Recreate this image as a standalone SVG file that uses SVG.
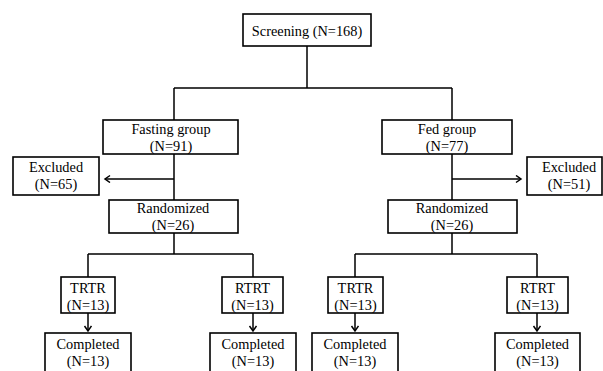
<svg xmlns="http://www.w3.org/2000/svg" width="603" height="371" viewBox="0 0 603 371">
<defs>
<style>
.box{fill:#fff;stroke:#000;stroke-width:1.6}
.ln{fill:none;stroke:#000;stroke-width:1.5}
text{font-family:"Liberation Serif","Times New Roman",serif;font-size:15.6px;fill:#000;text-anchor:middle}
</style>
<marker id="ah" markerUnits="userSpaceOnUse" markerWidth="10" markerHeight="10" refX="6" refY="4" orient="auto">
<path d="M1,0.5 L6,4 L1,7.5" fill="none" stroke="#000" stroke-width="1.5"/>
</marker>
</defs>
<rect width="603" height="371" fill="#fff"/>
<g id="connectors">
<path class="ln" d="M307,46 V88 M174,88 H452 M174,88 V120 M452,88 V120"/>
<path class="ln" d="M174,154 V200 M452,154 V200"/>
<path class="ln" d="M174,179 H105" marker-end="url(#ah)"/>
<path class="ln" d="M452,179 H521" marker-end="url(#ah)"/>
<path class="ln" d="M174,233 V254 M88,254 H253 M88,254 V277 M253,254 V277"/>
<path class="ln" d="M452,233 V254 M355,254 H537 M355,254 V277 M537,254 V277"/>
<path class="ln" d="M88,313 V331" marker-end="url(#ah)"/>
<path class="ln" d="M253,313 V331" marker-end="url(#ah)"/>
<path class="ln" d="M355,313 V331" marker-end="url(#ah)"/>
<path class="ln" d="M537,313 V331" marker-end="url(#ah)"/>
</g>
<g id="screening"><rect class="box" x="243" y="14" width="128" height="32"/><text transform="translate(307,36) scale(0.92,1)">Screening (N=168)</text></g>
<g id="fasting"><rect class="box" x="103" y="120" width="135" height="34"/><text transform="translate(171,134) scale(0.92,1)">Fasting group</text><text transform="translate(171,151) scale(0.92,1)">(N=91)</text></g>
<g id="fed"><rect class="box" x="382" y="120" width="130" height="34"/><text transform="translate(447,134) scale(0.92,1)">Fed group</text><text transform="translate(447,151) scale(0.92,1)">(N=77)</text></g>
<g id="excluded-left"><rect class="box" x="13" y="157" width="86" height="38"/><text transform="translate(56,172) scale(0.92,1)">Excluded</text><text transform="translate(56,189) scale(0.92,1)">(N=65)</text></g>
<g id="excluded-right"><rect class="box" x="527" y="157" width="75" height="38"/><text transform="translate(569,172) scale(0.92,1)">Excluded</text><text transform="translate(569,189) scale(0.92,1)">(N=51)</text></g>
<g id="randomized-left"><rect class="box" x="109" y="200" width="129" height="33"/><text transform="translate(173,213) scale(0.92,1)">Randomized</text><text transform="translate(173,230) scale(0.92,1)">(N=26)</text></g>
<g id="randomized-right"><rect class="box" x="388" y="200" width="129" height="33"/><text transform="translate(452,213) scale(0.92,1)">Randomized</text><text transform="translate(452,230) scale(0.92,1)">(N=26)</text></g>
<g id="trtr-left"><rect class="box" x="61" y="277" width="54" height="36"/><text transform="translate(88,293) scale(0.92,1)">TRTR</text><text transform="translate(88,310) scale(0.92,1)">(N=13)</text></g>
<g id="rtrt-left"><rect class="box" x="222" y="277" width="61" height="36"/><text transform="translate(252.5,293) scale(0.92,1)">RTRT</text><text transform="translate(252.5,310) scale(0.92,1)">(N=13)</text></g>
<g id="trtr-right"><rect class="box" x="328" y="277" width="55" height="36"/><text transform="translate(355.5,293) scale(0.92,1)">TRTR</text><text transform="translate(355.5,310) scale(0.92,1)">(N=13)</text></g>
<g id="rtrt-right"><rect class="box" x="507" y="277" width="61" height="36"/><text transform="translate(537.5,293) scale(0.92,1)">RTRT</text><text transform="translate(537.5,310) scale(0.92,1)">(N=13)</text></g>
<g id="completed-1"><rect class="box" x="45" y="333" width="86" height="42"/><text transform="translate(88,349) scale(0.92,1)">Completed</text><text transform="translate(88,366) scale(0.92,1)">(N=13)</text></g>
<g id="completed-2"><rect class="box" x="210" y="333" width="86" height="42"/><text transform="translate(253,349) scale(0.92,1)">Completed</text><text transform="translate(253,366) scale(0.92,1)">(N=13)</text></g>
<g id="completed-3"><rect class="box" x="312" y="333" width="86" height="42"/><text transform="translate(355,349) scale(0.92,1)">Completed</text><text transform="translate(355,366) scale(0.92,1)">(N=13)</text></g>
<g id="completed-4"><rect class="box" x="495" y="333" width="85" height="42"/><text transform="translate(537.5,349) scale(0.92,1)">Completed</text><text transform="translate(537.5,366) scale(0.92,1)">(N=13)</text></g>
</svg>
